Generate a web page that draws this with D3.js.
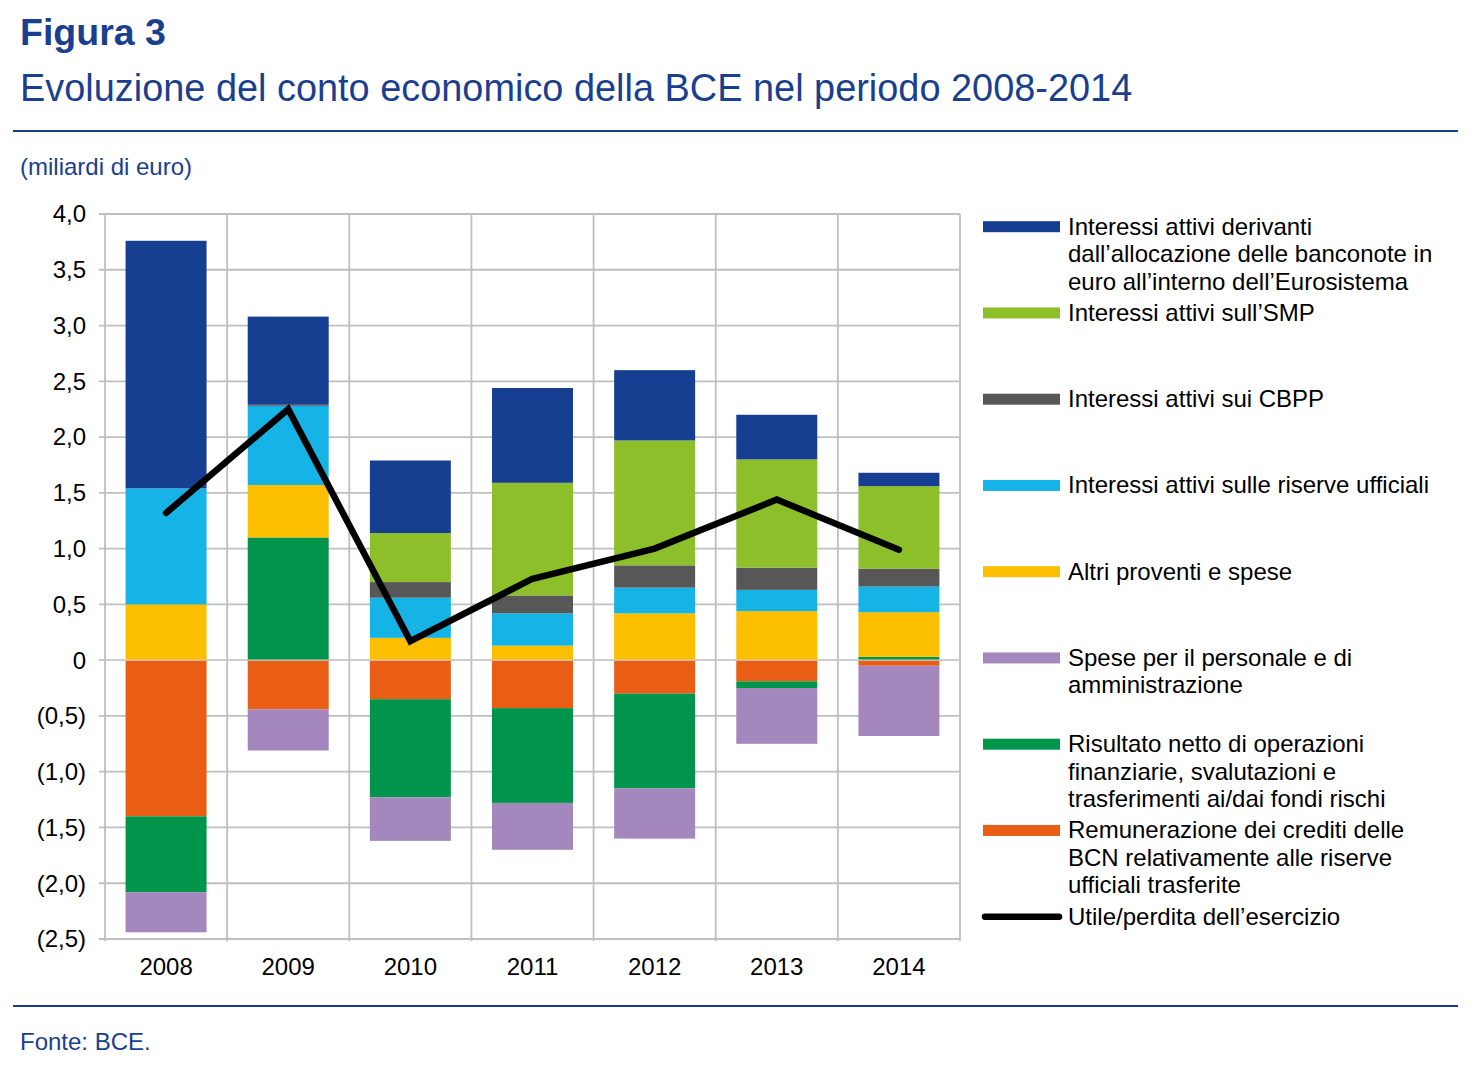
<!DOCTYPE html>
<html>
<head>
<meta charset="utf-8">
<script src="https://cdn.jsdelivr.net/npm/d3@7"></script>
<style>
  body { margin: 0; background: #fff; }
  svg { font-family: "Liberation Sans", Arial, sans-serif; }
</style>
</head>
<body>
<div id="chart"></div>
<script>
// categories
const years = ['2008', '2009', '2010', '2011', '2012', '2013', '2014'];

// series values (billions of euro)
const banconote     = [2.22, 0.79, 0.65, 0.85, 0.63, 0.40, 0.12];
const smp           = [0.00, 0.00, 0.44, 1.01, 1.12, 0.97, 0.74];
const cbpp          = [0.00, 0.01, 0.14, 0.16, 0.20, 0.20, 0.16];
const riserve       = [1.04, 0.71, 0.36, 0.29, 0.23, 0.19, 0.23];
const altri         = [0.50, 0.47, 0.20, 0.13, 0.42, 0.44, 0.40];
const spese         = [-0.36, -0.37, -0.39, -0.42, -0.45, -0.50, -0.63];
const risultato     = [-0.68, 1.10, -0.88, -0.85, -0.85, -0.06, 0.03];
const remunerazione = [-1.40, -0.44, -0.35, -0.43, -0.30, -0.19, -0.05];
const utile         = [1.32, 2.25, 0.17, 0.73, 1.00, 1.44, 0.99];

// y tick labels
const yTicks = [4, 3.5, 3, 2.5, 2, 1.5, 1, 0.5, 0, -0.5, -1, -1.5, -2, -2.5];
const yTickLabels = ['4,0', '3,5', '3,0', '2,5', '2,0', '1,5', '1,0', '0,5', '0', '(0,5)', '(1,0)', '(1,5)', '(2,0)', '(2,5)'];

// legend entries, in legend order
const legendLabels = [
  ['Interessi attivi derivanti', 'dall\u2019allocazione delle banconote in', 'euro all\u2019interno dell\u2019Eurosistema'],
  ['Interessi attivi sull\u2019SMP'],
  ['Interessi attivi sui CBPP'],
  ['Interessi attivi sulle riserve ufficiali'],
  ['Altri proventi e spese'],
  ['Spese per il personale e di', 'amministrazione'],
  ['Risultato netto di operazioni', 'finanziarie, svalutazioni e', 'trasferimenti ai/dai fondi rischi'],
  ['Remunerazione dei crediti delle', 'BCN relativamente alle riserve', 'ufficiali trasferite'],
  ['Utile/perdita dell\u2019esercizio']
];
const legendKeys = ['banconote', 'smp', 'cbpp', 'riserve', 'altri', 'spese', 'risultato', 'remunerazione', 'utile'];

const colors = {
  banconote: '#173f91',
  smp: '#8dbf2b',
  cbpp: '#575757',
  riserve: '#15b3e6',
  altri: '#fbbf00',
  spese: '#a487bc',
  risultato: '#00954a',
  remunerazione: '#e95d15',
  utile: '#000000'
};

const seriesMap = { banconote, smp, cbpp, riserve, altri, spese, risultato, remunerazione };
// stacking order: first key sits closest to zero
const stackKeys = ['remunerazione', 'risultato', 'altri', 'riserve', 'cbpp', 'smp', 'banconote', 'spese'];

const table = years.map((y, i) => {
  const row = { year: y };
  for (const k of stackKeys) row[k] = seriesMap[k][i];
  return row;
});

const W = 1474, H = 1077;
const blue = '#1b3f8f';
const plot = { left: 105, right: 960, top: 214, bottom: 939 };
const fs = 24;

const svg = d3.select('#chart').append('svg')
  .attr('width', W).attr('height', H);

// header
svg.append('text').attr('x', 20).attr('y', 45)
  .attr('fill', blue).attr('font-size', 37.5).attr('font-weight', 'bold')
  .text('Figura 3');
svg.append('text').attr('x', 20).attr('y', 101)
  .attr('fill', blue).attr('font-size', 37.9)
  .text('Evoluzione del conto economico della BCE nel periodo 2008-2014');
svg.append('line').attr('x1', 13).attr('x2', 1458).attr('y1', 131).attr('y2', 131)
  .attr('stroke', blue).attr('stroke-width', 2);
svg.append('text').attr('x', 20).attr('y', 175)
  .attr('fill', blue).attr('font-size', fs)
  .text('(miliardi di euro)');

// footer
svg.append('line').attr('x1', 13).attr('x2', 1458).attr('y1', 1006).attr('y2', 1006)
  .attr('stroke', blue).attr('stroke-width', 2);
svg.append('text').attr('x', 20).attr('y', 1050)
  .attr('fill', blue).attr('font-size', fs)
  .text('Fonte: BCE.');

// scales
const x = d3.scaleBand()
  .domain(years)
  .range([plot.left, plot.right])
  .paddingInner(0.337)
  .paddingOuter(0.337 / 2);

const y = d3.scaleLinear()
  .domain([-2.5, 4])
  .range([plot.bottom, plot.top]);

const grid = svg.append('g');
const gridColor = '#bfbfbf';

// horizontal grid + y ticks
grid.selectAll('.hg').data(yTicks).enter().append('line')
  .attr('x1', plot.left - 6).attr('x2', plot.right)
  .attr('y1', d => y(d)).attr('y2', d => y(d))
  .attr('stroke', gridColor).attr('stroke-width', 1.8);

// vertical grid at category boundaries
const bounds = d3.range(years.length + 1).map(i => plot.left + i * x.step());
grid.selectAll('.vg').data(bounds).enter().append('line')
  .attr('x1', d => d).attr('x2', d => d)
  .attr('y1', plot.top).attr('y2', plot.bottom + 2)
  .attr('stroke', gridColor).attr('stroke-width', 1.8);

svg.append('g').selectAll('text').data(yTicks).enter().append('text')
  .attr('x', 86).attr('y', d => y(d)).attr('dy', '0.35em')
  .attr('text-anchor', 'end').attr('font-size', fs).attr('fill', '#000')
  .text((d, i) => yTickLabels[i]);

svg.append('g').selectAll('text').data(years).enter().append('text')
  .attr('x', d => x(d) + x.bandwidth() / 2).attr('y', 975)
  .attr('text-anchor', 'middle').attr('font-size', fs).attr('fill', '#000')
  .text(d => d);

// stacked bars
const stack = d3.stack().keys(stackKeys).offset(d3.stackOffsetDiverging);
const layers = stack(table);

svg.append('g').selectAll('g').data(layers).enter().append('g')
  .attr('fill', d => colors[d.key])
  .selectAll('rect').data(d => d).enter().append('rect')
  .attr('x', d => x(d.data.year))
  .attr('width', x.bandwidth())
  .attr('y', d => y(Math.max(d[0], d[1])))
  .attr('height', d => Math.abs(y(d[0]) - y(d[1])));

// zero line
svg.append('line')
  .attr('x1', plot.left).attr('x2', plot.right)
  .attr('y1', y(0)).attr('y2', y(0))
  .attr('stroke', '#cfcfcf').attr('stroke-width', 1.2);

// profit line
const line = d3.line()
  .x((d, i) => x(years[i]) + x.bandwidth() / 2)
  .y(d => y(d));
svg.append('path').datum(utile)
  .attr('d', line)
  .attr('fill', 'none').attr('stroke', colors.utile)
  .attr('stroke-width', 6.5)
  .attr('stroke-linecap', 'round')
  .attr('stroke-linejoin', 'miter');

// legend
const lg = svg.append('g');
legendKeys.forEach((k, i) => {
  const cy = 226.7 + i * 86.25;
  if (k === 'utile') {
    lg.append('line').attr('x1', 985).attr('x2', 1059).attr('y1', cy).attr('y2', cy)
      .attr('stroke', colors[k]).attr('stroke-width', 6.5).attr('stroke-linecap', 'round');
  } else {
    lg.append('rect').attr('x', 983).attr('y', cy - 5.5).attr('width', 77).attr('height', 11)
      .attr('fill', colors[k]);
  }
  const t = lg.append('text').attr('x', 1068).attr('y', cy + 8)
    .attr('font-size', fs).attr('fill', '#000');
  legendLabels[i].forEach((s, j) => {
    t.append('tspan').attr('x', 1068).attr('dy', j === 0 ? 0 : 27.5).text(s);
  });
});
</script>
</body>
</html>
